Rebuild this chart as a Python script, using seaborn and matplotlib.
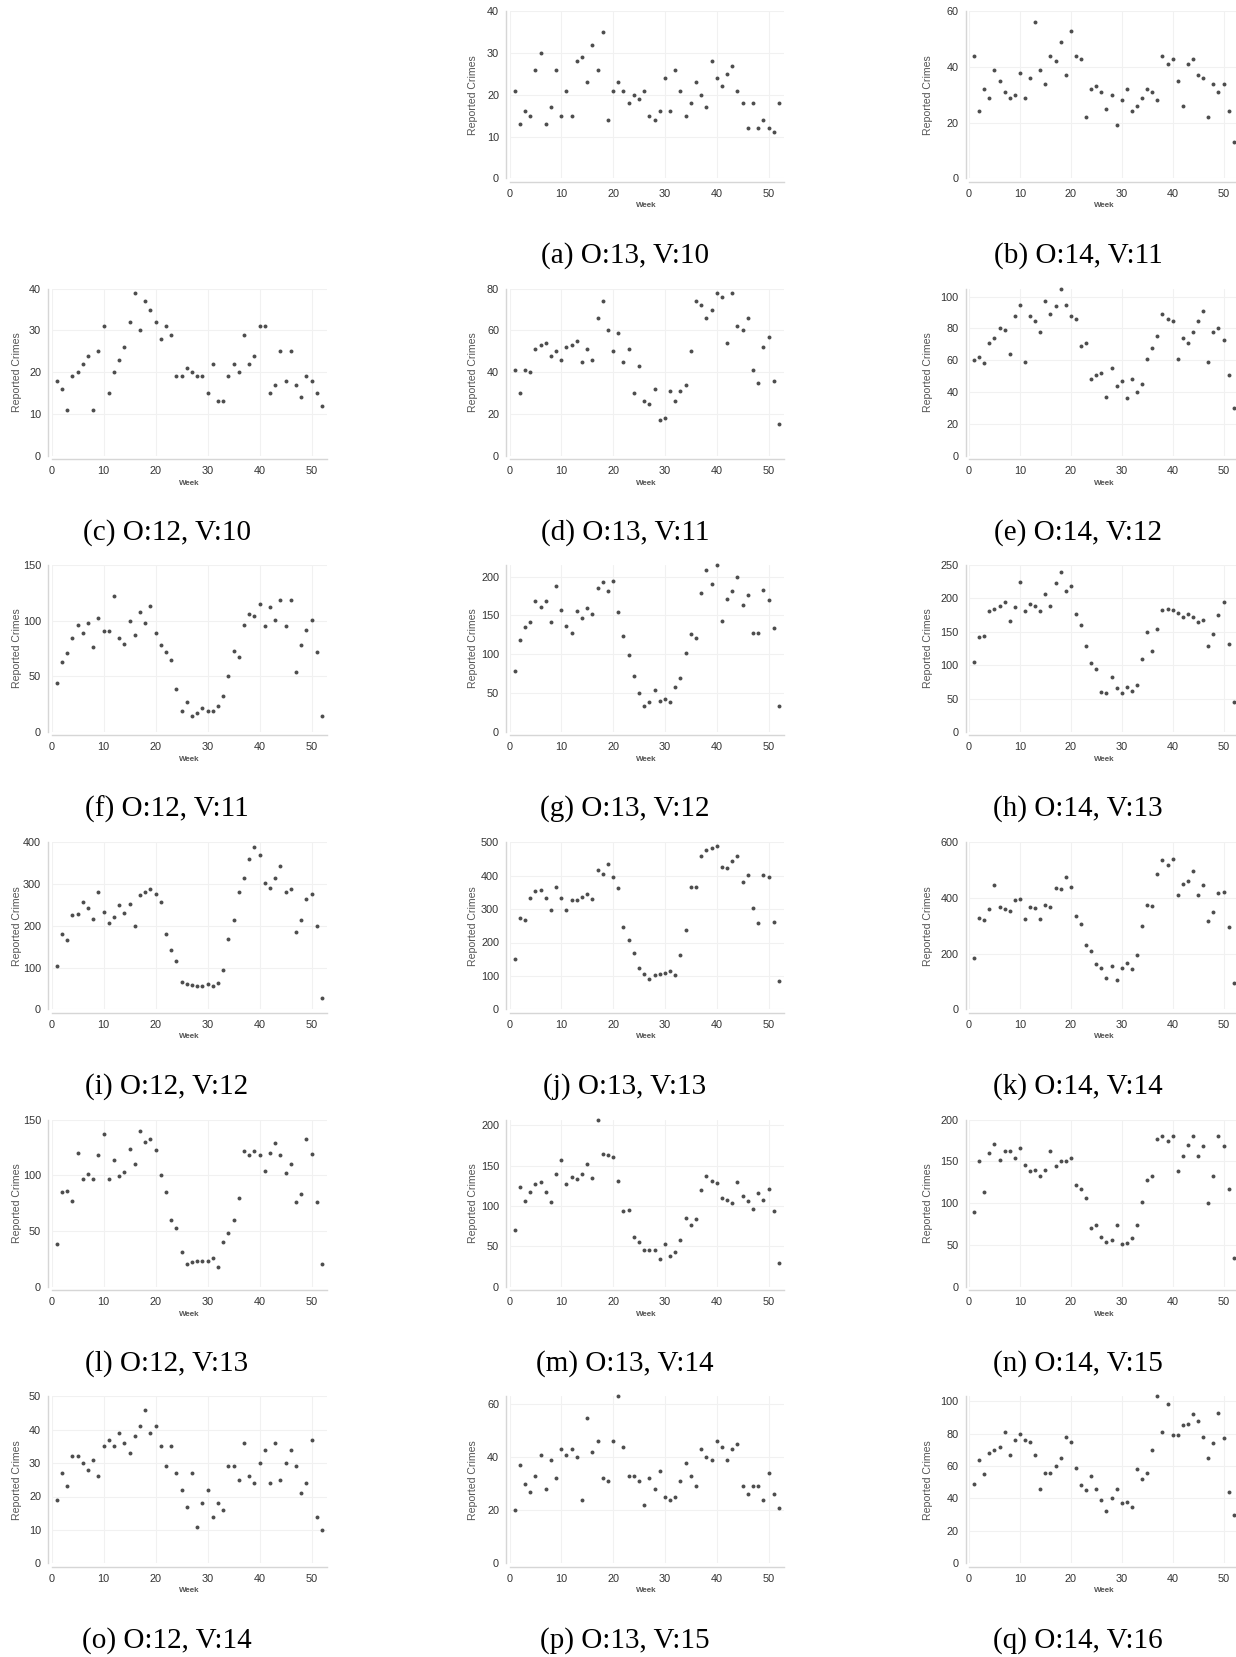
import numpy as np
import pandas as pd
import matplotlib
matplotlib.use('Agg')
import matplotlib.pyplot as plt
import seaborn as sns

# Weekly reported crimes, one list per sub-figure
weeks = list(range(1, 53))

crimes_a = [21, 13, 16, 15, 26, 30, 13, 17, 26, 15, 21, 15, 28, 29, 23, 32, 26, 35, 14, 21,
            23, 21, 18, 20, 19, 21, 15, 14, 16, 24, 16, 26, 21, 15, 18, 23, 20, 17, 28, 24,
            22, 25, 27, 21, 18, 12, 18, 12, 14, 12, 11, 18]
crimes_b = [44, 24, 32, 29, 39, 35, 31, 29, 30, 38, 29, 36, 56, 39, 34, 44, 42, 49, 37, 53,
            44, 43, 22, 32, 33, 31, 25, 30, 19, 28, 32, 24, 26, 29, 32, 31, 28, 44, 41, 43,
            35, 26, 41, 43, 37, 36, 22, 34, 31, 34, 24, 13]
crimes_c = [18, 16, 11, 19, 20, 22, 24, 11, 25, 31, 15, 20, 23, 26, 32, 39, 30, 37, 35, 32,
            28, 31, 29, 19, 19, 21, 20, 19, 19, 15, 22, 13, 13, 19, 22, 20, 29, 22, 24, 31,
            31, 15, 17, 25, 18, 25, 17, 14, 19, 18, 15, 12]
crimes_d = [41, 30, 41, 40, 51, 53, 54, 48, 50, 46, 52, 53, 55, 45, 51, 46, 66, 74, 60, 50,
            59, 45, 51, 30, 43, 26, 25, 32, 17, 18, 31, 26, 31, 34, 50, 74, 72, 66, 70, 78,
            76, 54, 78, 62, 60, 66, 41, 35, 52, 57, 36, 15]
crimes_e = [60, 62, 58, 71, 74, 80, 79, 64, 88, 95, 59, 88, 85, 78, 97, 89, 94, 105, 95, 88,
            86, 69, 71, 48, 51, 52, 37, 55, 44, 47, 36, 48, 40, 45, 61, 68, 75, 89, 86, 85,
            61, 74, 71, 78, 85, 91, 59, 78, 80, 73, 51, 30]
crimes_f = [44, 63, 71, 84, 96, 89, 98, 76, 102, 91, 91, 122, 84, 79, 100, 87, 108, 98, 113, 89,
            78, 72, 65, 39, 19, 27, 14, 17, 22, 19, 19, 23, 32, 50, 73, 67, 96, 106, 104, 115,
            95, 112, 101, 119, 95, 119, 54, 78, 92, 101, 72, 14]
crimes_g = [79, 119, 135, 141, 169, 161, 169, 141, 188, 157, 137, 128, 156, 147, 159, 152, 185, 193, 181, 195,
            154, 123, 99, 72, 50, 33, 39, 54, 40, 42, 39, 58, 70, 102, 126, 121, 179, 209, 190, 215,
            143, 171, 181, 200, 163, 176, 128, 128, 183, 170, 134, 33]
crimes_h = [105, 142, 144, 181, 184, 189, 194, 166, 187, 224, 181, 192, 189, 181, 206, 188, 223, 240, 211, 219,
            177, 160, 128, 103, 94, 60, 58, 83, 66, 59, 68, 61, 70, 110, 149, 121, 154, 183, 184, 182,
            178, 172, 177, 172, 164, 168, 128, 146, 175, 194, 132, 45]
crimes_i = [104, 180, 165, 226, 229, 257, 243, 216, 280, 233, 207, 222, 250, 230, 253, 199, 274, 281, 287, 277,
            256, 181, 141, 115, 65, 61, 58, 57, 57, 61, 56, 64, 95, 168, 215, 282, 314, 361, 388, 369,
            302, 291, 314, 344, 282, 288, 185, 215, 263, 275, 199, 27]
crimes_j = [152, 272, 268, 332, 355, 357, 332, 297, 367, 334, 298, 328, 326, 337, 344, 330, 418, 405, 434, 397,
            364, 245, 208, 169, 125, 105, 90, 102, 105, 108, 114, 104, 162, 238, 367, 366, 459, 477, 482, 488,
            426, 424, 443, 459, 381, 401, 302, 258, 401, 396, 261, 84]
crimes_k = [184, 328, 322, 360, 448, 366, 360, 353, 391, 396, 324, 367, 364, 325, 376, 366, 436, 432, 476, 438,
            334, 306, 232, 208, 163, 148, 114, 154, 106, 150, 167, 143, 194, 299, 374, 371, 487, 538, 520, 541,
            410, 451, 461, 498, 409, 448, 316, 348, 418, 420, 296, 94]
crimes_l = [38, 85, 86, 77, 120, 97, 101, 97, 118, 137, 97, 114, 99, 103, 124, 110, 140, 130, 133, 123,
            100, 85, 60, 53, 31, 20, 22, 23, 23, 23, 26, 18, 40, 48, 60, 80, 122, 118, 122, 118,
            104, 120, 129, 118, 102, 110, 76, 83, 133, 119, 76, 20]
crimes_m = [70, 124, 106, 118, 127, 130, 118, 105, 140, 157, 127, 136, 133, 140, 152, 135, 207, 164, 163, 161,
            131, 94, 95, 61, 56, 46, 45, 45, 34, 53, 38, 43, 58, 85, 76, 84, 120, 137, 131, 129,
            110, 108, 104, 130, 113, 106, 96, 116, 108, 121, 94, 29]
crimes_n = [90, 150, 114, 160, 171, 152, 162, 162, 154, 166, 146, 139, 140, 132, 140, 162, 144, 150, 151, 154,
            122, 117, 106, 70, 74, 60, 54, 56, 74, 51, 52, 58, 74, 102, 128, 132, 177, 180, 174, 180,
            138, 156, 170, 180, 157, 168, 100, 132, 180, 169, 117, 34]
crimes_o = [19, 27, 23, 32, 32, 30, 28, 31, 26, 35, 37, 35, 39, 36, 33, 38, 41, 46, 39, 41,
            35, 29, 35, 27, 22, 17, 27, 11, 18, 22, 14, 18, 16, 29, 29, 25, 36, 26, 24, 30,
            34, 24, 36, 25, 30, 34, 29, 21, 24, 37, 14, 10]
crimes_p = [20, 37, 30, 27, 33, 41, 28, 39, 32, 43, 41, 43, 40, 24, 55, 42, 46, 32, 31, 46,
            63, 44, 33, 33, 31, 22, 32, 28, 35, 25, 24, 25, 31, 38, 33, 29, 43, 40, 39, 46,
            44, 39, 43, 45, 29, 26, 29, 29, 24, 34, 26, 21]
crimes_q = [49, 64, 55, 68, 70, 72, 81, 67, 76, 80, 76, 75, 67, 46, 56, 56, 60, 65, 78, 75,
            59, 48, 45, 54, 46, 39, 32, 40, 46, 37, 38, 35, 58, 52, 56, 70, 103, 81, 98, 79,
            79, 85, 86, 92, 88, 78, 65, 74, 93, 77, 44, 30]

captions = ['(a) O:13, V:10', '(b) O:14, V:11',
            '(c) O:12, V:10', '(d) O:13, V:11', '(e) O:14, V:12',
            '(f) O:12, V:11', '(g) O:13, V:12', '(h) O:14, V:13',
            '(i) O:12, V:12', '(j) O:13, V:13', '(k) O:14, V:14',
            '(l) O:12, V:13', '(m) O:13, V:14', '(n) O:14, V:15',
            '(o) O:12, V:14', '(p) O:13, V:15', '(q) O:14, V:16']

panels = [crimes_a, crimes_b, crimes_c, crimes_d, crimes_e, crimes_f, crimes_g, crimes_h,
          crimes_i, crimes_j, crimes_k, crimes_l, crimes_m, crimes_n, crimes_o, crimes_p, crimes_q]

# axis settings per panel
y_tops = [40, 60, 40, 80, 105, 150, 215, 250, 400, 500, 600, 150, 207, 200, 50, 63, 103]
y_steps = [10, 20, 10, 20, 20, 50, 50, 50, 100, 100, 200, 50, 50, 50, 10, 20, 20]

sns.set_theme(style='white')
plt.rcParams['font.family'] = ['Liberation Sans', 'DejaVu Sans']

W, H = 1236, 1657
fig = plt.figure(figsize=(W / 100, H / 100), dpi=100)

# layout in pixels
col_x0 = [51.5, 509.5, 969]
col_step = [5.2, 5.18, 5.09]
col_label_x = [16.7, 473.3, 928.3]
cap_x = [167, 625, 1078]
row_y0 = [178.3, 455.7, 732, 1009.3, 1286.7, 1563.3]
plot_h = 167

slots = [(0, 1), (0, 2)] + [(r, c) for r in range(1, 6) for c in range(3)]

for i, vals in enumerate(panels):
    r, c = slots[i]
    left = col_x0[c]
    width = 53 * col_step[c]
    ax = fig.add_axes([left / W, (H - row_y0[r]) / H, width / W, plot_h / H])
    df = pd.DataFrame({'Week': weeks, 'Reported Crimes': vals})
    sns.scatterplot(data=df, x='Week', y='Reported Crimes', ax=ax, s=8,
                    color='#4d4d4d', linewidth=0, zorder=3, clip_on=False)
    ax.set_xlim(0, 53)
    ax.set_ylim(0, y_tops[i])
    ax.set_xticks(range(0, 51, 10))
    ax.set_yticks(np.arange(0, y_tops[i] + 0.01, y_steps[i]))
    ax.grid(True, color='#f1f1f1', lw=0.8, zorder=0)
    for s in ['top', 'right']:
        ax.spines[s].set_visible(False)
    for s in ['left', 'bottom']:
        ax.spines[s].set_color('#d6d6d6')
        ax.spines[s].set_linewidth(1.0)
        ax.spines[s].set_position(('outward', 2.5))
    ax.tick_params(length=3, width=0.8, color='#cfcfcf', labelsize=7.8,
                   labelcolor='#333333', pad=2)
    ax.set_xlabel('Week', fontsize=5.8, color='#555555', fontweight='bold')
    ax.xaxis.set_label_coords(0.5, -27.4 / plot_h)
    ax.xaxis.label.set_va('center')
    ax.set_ylabel('Reported Crimes', fontsize=7.6, color='#555555')
    ax.yaxis.set_label_coords((col_label_x[c] - left) / width, 0.5)
    ax.yaxis.label.set_va('center')

    fig.text(cap_x[c] / W, 1 - (row_y0[r] + 77) / H, captions[i], ha='center', va='center',
             fontsize=21, family=['Liberation Serif', 'DejaVu Serif'], color='black')

fig.savefig('out.png', dpi=100)
